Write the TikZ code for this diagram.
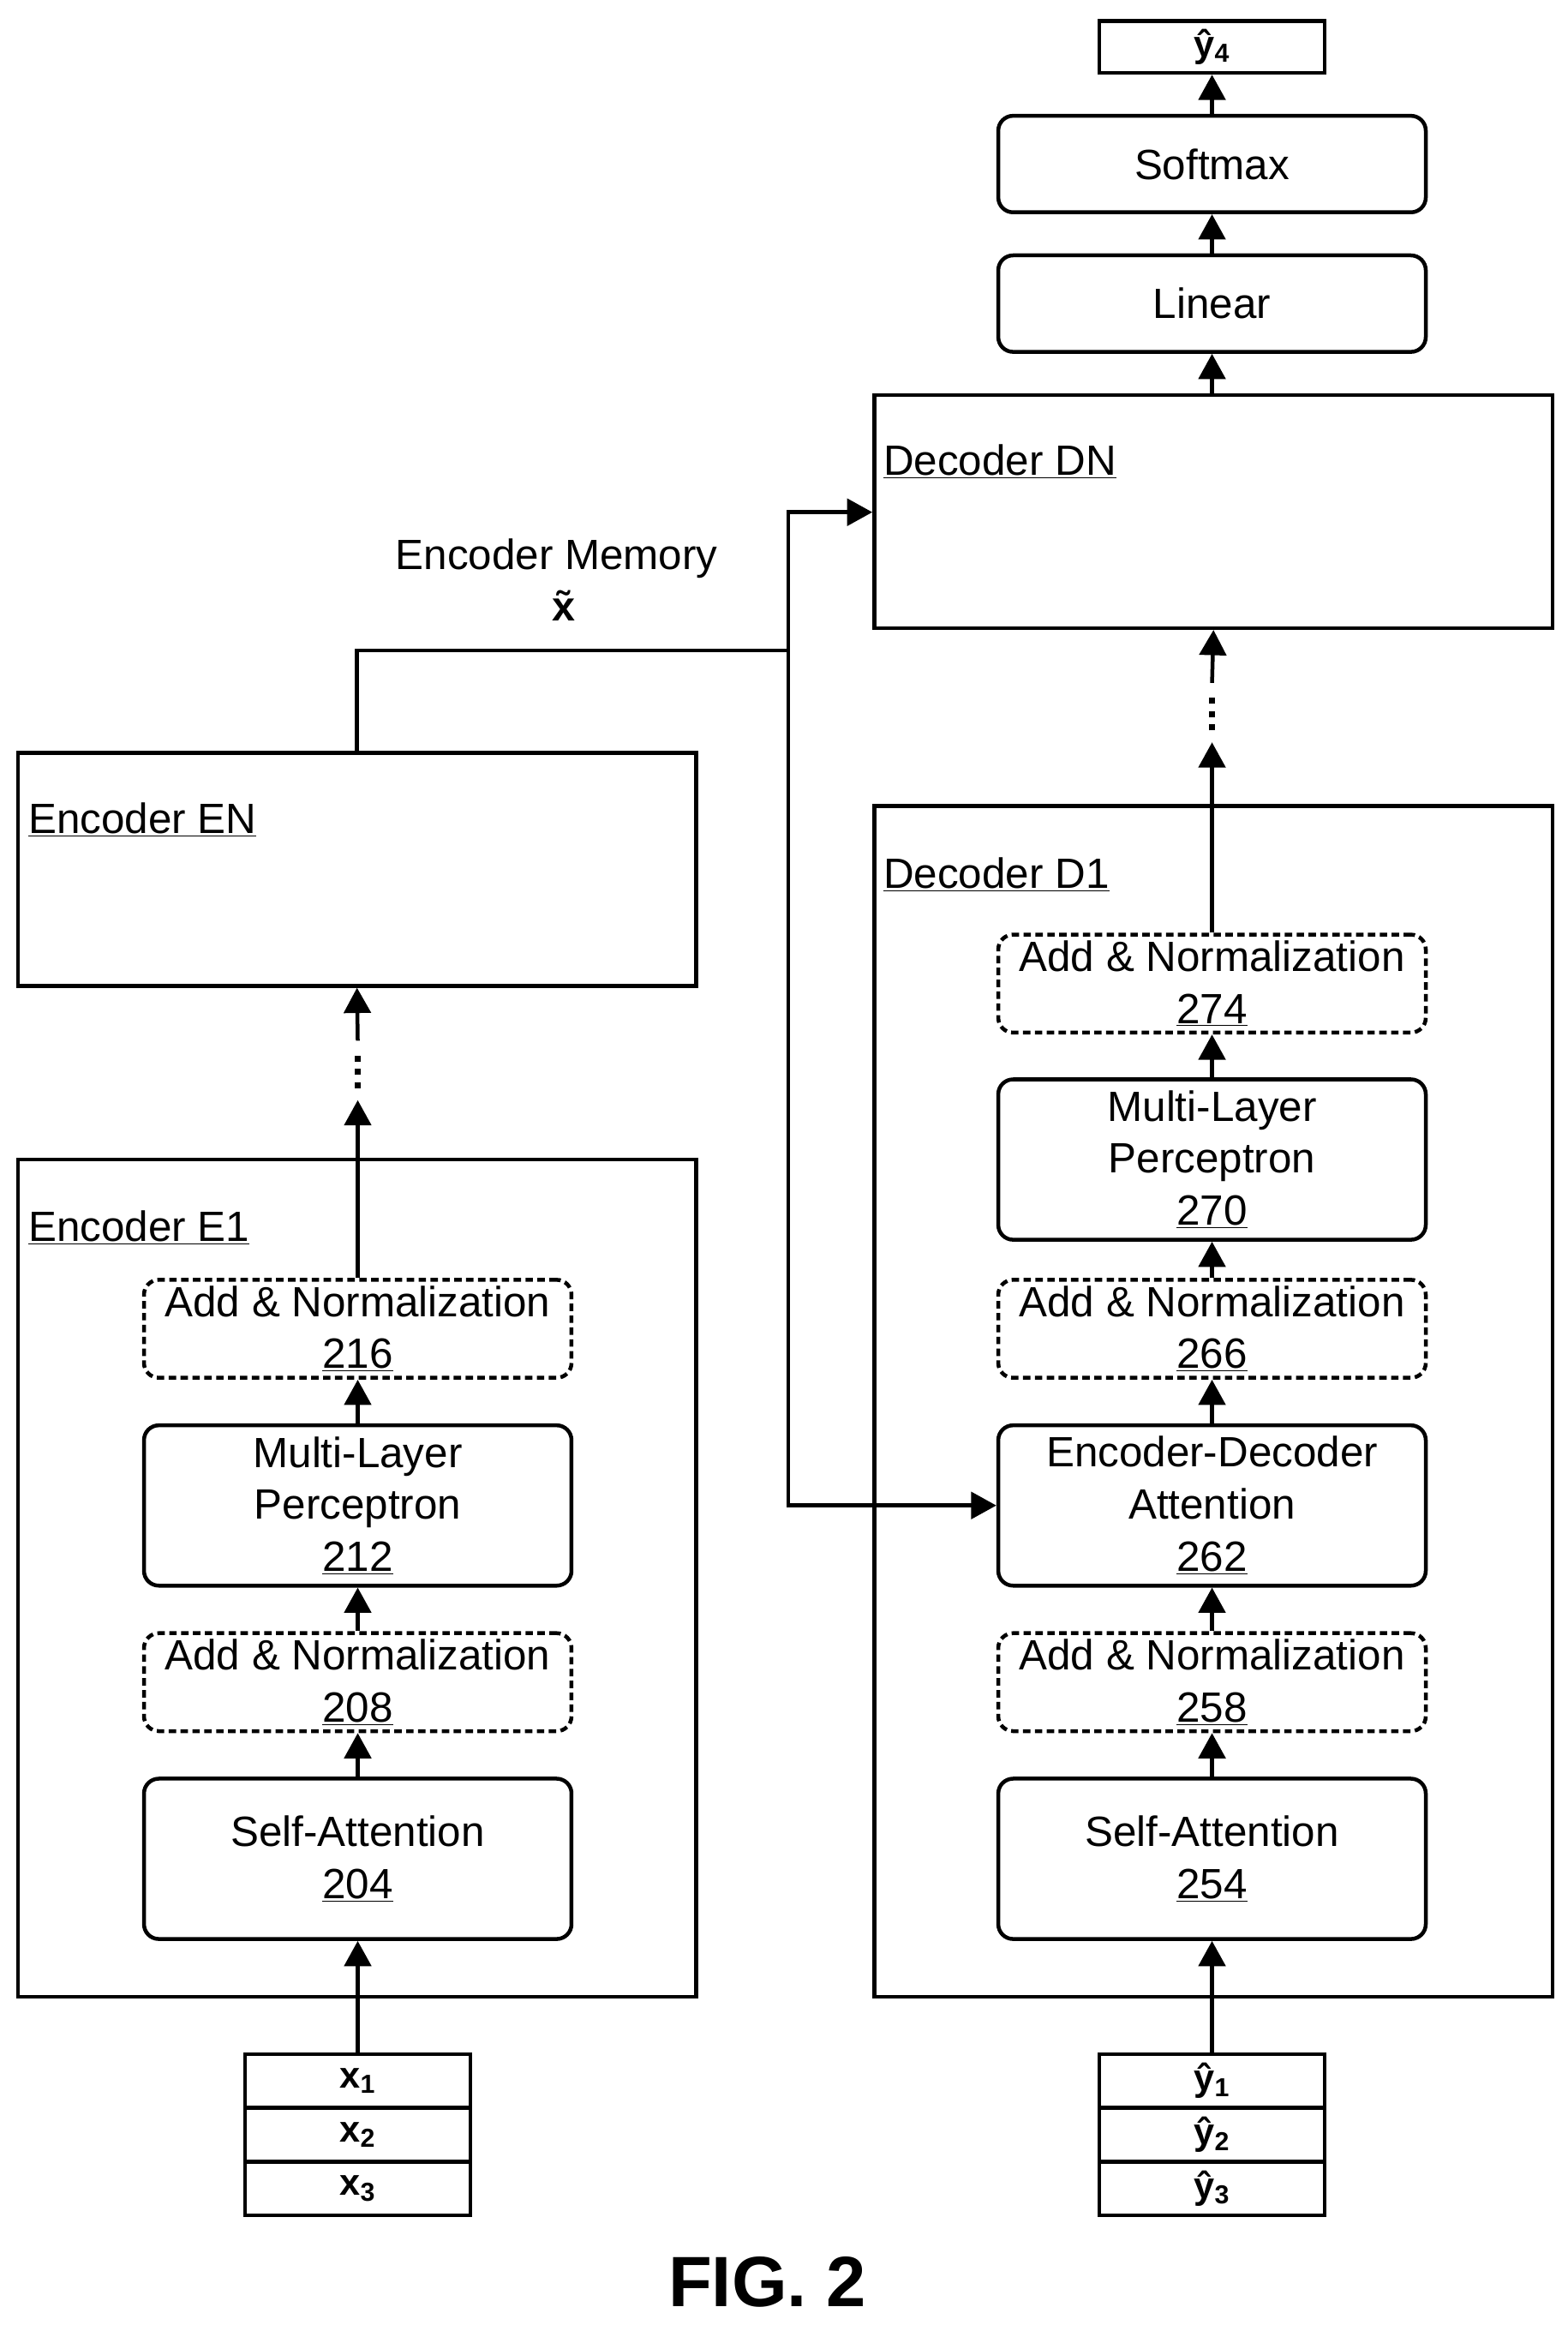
\documentclass[tikz,border=0pt]{standalone}
\usepackage{fontspec}
\setmainfont{Liberation Sans}
\usetikzlibrary{arrows.meta}
\begin{document}
\begin{tikzpicture}[x=1pt,y=-1pt,
  lw/.style={line width=2.6pt},
  box/.style={draw,lw,rounded corners=10pt,minimum width=288pt,align=center,inner sep=0pt,font=\fontsize{28.5}{35}\selectfont},
  an/.style={box,dash pattern=on 5pt off 3pt,minimum height=66pt},
  blk/.style={draw,lw,inner sep=0pt,minimum width=457pt},
  lab/.style={anchor=west,inner sep=0pt,font=\fontsize{28.5}{32}\selectfont},
  io/.style={draw,lw,inner sep=0pt,minimum width=152pt,minimum height=36pt,font=\fontsize{25}{28}\selectfont\bfseries},
  ar/.style={lw,-{Triangle[length=17pt,width=18pt]}},
  dots/.style={line width=4pt,dash pattern=on 4pt off 5pt}]
\useasboundingbox (0,0) rectangle (1056,1566);
% big blocks
\node[blk,minimum height=157pt] (en) at (240.5,585.5) {};
\node[lab] (enl) at (19,552) {\underline{Encoder EN}};
\node[blk,minimum height=564pt] (e1) at (240.5,1063) {};
\node[lab] (e1l) at (19,827) {\underline{Encoder E1}};
\node[blk,minimum height=157pt] (dn) at (817.5,344.5) {};
\node[lab] (dnl) at (595,311) {\underline{Decoder DN}};
\node[blk,minimum height=802pt] (d1) at (817.5,944) {};
\node[lab] (d1l) at (595,589) {\underline{Decoder D1}};
% encoder inner
\node[box,minimum height=108pt] (sa1) at (241,1252) {Self-Attention\\\underline{204}};
\node[an] (an1) at (241,1133) {Add \& Normalization\\\underline{208}};
\node[box,minimum height=108pt] (mlp1) at (241,1014) {Multi-Layer\\Perceptron\\\underline{212}};
\node[an] (an2) at (241,895) {Add \& Normalization\\\underline{216}};
% decoder inner
\node[box,minimum height=108pt] (sa2) at (816.5,1252) {Self-Attention\\\underline{254}};
\node[an] (an3) at (816.5,1133) {Add \& Normalization\\\underline{258}};
\node[box,minimum height=108pt] (eda) at (816.5,1014) {Encoder-Decoder\\Attention\\\underline{262}};
\node[an] (an4) at (816.5,895) {Add \& Normalization\\\underline{266}};
\node[box,minimum height=108pt] (mlp2) at (816.5,781) {Multi-Layer\\Perceptron\\\underline{270}};
\node[an] (an5) at (816.5,662.5) {Add \& Normalization\\\underline{274}};
\node[box,minimum height=65pt] (lin) at (816.5,204.5) {Linear};
\node[box,minimum height=65pt] (soft) at (816.5,110.5) {Softmax};
\node[io,minimum height=35pt] (yout) at (816.5,31.5) {ŷ\textsubscript{4}};
% inputs
\node[io] (x1) at (241,1401.5) {x\textsubscript{1}};
\node[io] (x2) at (241,1438) {x\textsubscript{2}};
\node[io] (x3) at (241,1474) {x\textsubscript{3}};
\node[io] (y1) at (816.5,1401.5) {ŷ\textsubscript{1}};
\node[io] (y2) at (816.5,1438) {ŷ\textsubscript{2}};
\node[io] (y3) at (816.5,1474) {ŷ\textsubscript{3}};
% labels
\node[font=\fontsize{28.5}{32}\selectfont,inner sep=0pt] (mem) at (375,376) {Encoder Memory};
\node[font=\fontsize{28}{32}\selectfont\bfseries,inner sep=0pt] (xt) at (380,408) {\~{x}};
\node[font=\fontsize{48}{56}\selectfont\bfseries,inner sep=0pt] (fig) at (517,1537) {FIG. 2};
% encoder arrows
\draw[ar] (x1.north) -- (sa1.south);
\draw[ar] (sa1.north) -- (an1.south);
\draw[ar] (an1.north) -- (mlp1.south);
\draw[ar] (mlp1.north) -- (an2.south);
\coordinate (et) at (241,741);
\coordinate (ed1) at (241,733);
\coordinate (ed2) at (241,709);
\coordinate (eb) at (241,701);
\draw[ar] (an2.north) -- (et);
\draw[dots] (ed1) -- (ed2);
\draw[ar] (eb) -- (en.south);
% memory
\coordinate (j) at (531,438);
\coordinate (jt) at (531,345);
\draw[lw] (en.north) |- (j);
\draw[ar] (j) -- (jt) -- (jt -| dn.west);
\draw[ar] (j) |- (eda.west);
% decoder arrows
\draw[ar] (y1.north) -- (sa2.south);
\draw[ar] (sa2.north) -- (an3.south);
\draw[ar] (an3.north) -- (eda.south);
\draw[ar] (eda.north) -- (an4.south);
\draw[ar] (an4.north) -- (mlp2.south);
\draw[ar] (mlp2.north) -- (an5.south);
\coordinate (dt) at (816.5,500);
\coordinate (dd1) at (816.5,492);
\coordinate (dd2) at (816.5,468);
\coordinate (db) at (816.5,460);
\draw[ar] (an5.north) -- (dt);
\draw[dots] (dd1) -- (dd2);
\draw[ar] (db) -- (dn.south);
\draw[ar] (dn.north -| lin.south) -- (lin.south);
\draw[ar] (lin.north) -- (soft.south);
\draw[ar] (soft.north) -- (yout.south);
\end{tikzpicture}
\end{document}
